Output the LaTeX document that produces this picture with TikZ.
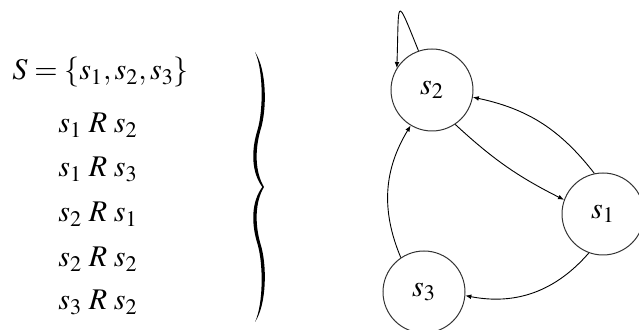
\documentclass[tikz,border=0pt]{standalone}
\usepackage{amsmath}
\usepackage{mathptmx}
\usepackage{tikz}
\usetikzlibrary{arrows.meta}

\begin{document}
\begin{tikzpicture}[x=0.5pt,y=-0.5pt,
    state/.style={draw=black!80,circle,line width=0.5pt,minimum size=41pt,inner sep=0pt,
      font=\fontsize{15}{18}\selectfont},
    rel/.style={anchor=base west,inner sep=0pt,font=\fontsize{15}{18}\selectfont},
    flow/.style={-{Latex[length=3pt,width=2.4pt]},line width=0.45pt}
  ]
    \useasboundingbox (0,0) rectangle (639,330);
    % the set and the relation
    \node[rel] (set) at (12,80) {$S=\{s_1,s_2,s_3\}$};
    \node[rel] (r12) at (58,133) {$s_1\;R\;s_2$};
    \node[rel] (r13) at (58,177) {$s_1\;R\;s_3$};
    \node[rel] (r21) at (58,222) {$s_2\;R\;s_1$};
    \node[rel] (r22) at (58,267) {$s_2\;R\;s_2$};
    \node[rel] (r32) at (58,310) {$s_3\;R\;s_2$};
    % the brace
    \fill (255,52) .. controls (267,70) and (267,110) .. (260.5,130)
      .. controls (254.8,150) and (255,172) .. (264,187)
      .. controls (255,202) and (254.8,224) .. (260.5,244)
      .. controls (267,264) and (267,304) .. (255,322)
      .. controls (263.4,304) and (263.4,264) .. (257.5,244)
      .. controls (251.2,224) and (251.2,202) .. (262.3,187)
      .. controls (251.2,172) and (251.2,150) .. (257.5,130)
      .. controls (263.4,110) and (263.4,70) .. (255,52) -- cycle;
    % the graph
    \node[state] (s2) at (432,90) {$s_2$};
    \node[state] (s1) at (603,214) {$s_1$};
    \node[state] (s3) at (424,292) {$s_3$};
    \draw[flow] (s2.109) .. controls +(112:31.5pt) and +(88:34pt) .. (s2.148);
    \draw[flow] (s1.102) to[bend right=20] (s2.-10);
    \draw[flow] (s2.-56) to[bend right=8] (s1.160);
    \draw[flow] (s1.-110) to[bend left=30] (s3.-5);
    \draw[flow] (s3.124) to[bend left=27] (s2.-121);
  \end{tikzpicture}
\end{document}
